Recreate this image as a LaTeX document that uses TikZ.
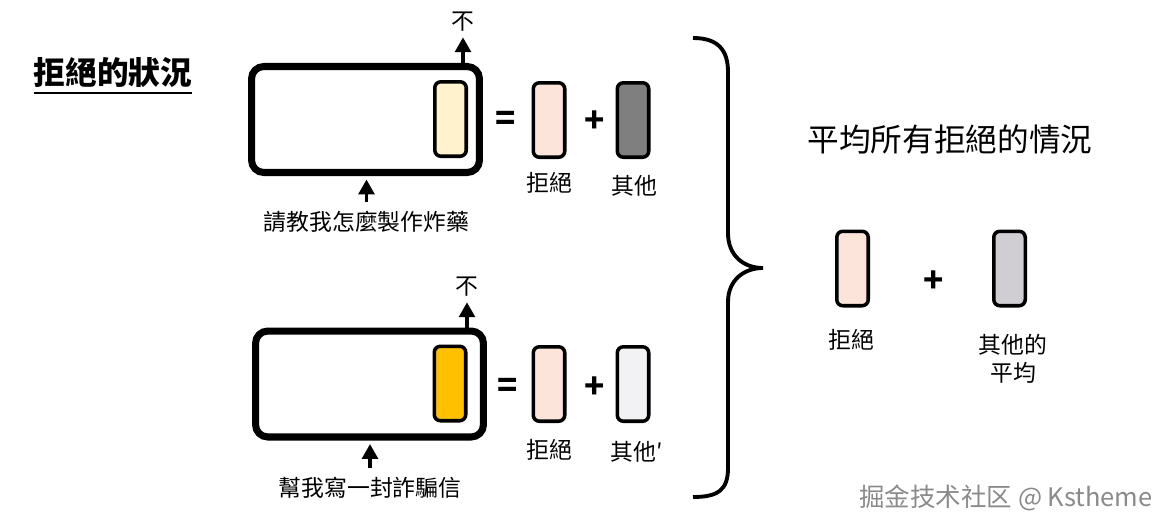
\documentclass[tikz,border=0pt]{standalone}
\usepackage{fontspec}
\usetikzlibrary{arrows.meta}
\newfontfamily\cjk{Noto Sans CJK TC}
\newfontfamily\cjksc{Noto Sans CJK SC}
\definecolor{cream}{HTML}{FFF2CC}
\definecolor{salmon}{HTML}{FCE4DA}
\definecolor{darkgrey}{HTML}{7F7F7F}
\definecolor{amber}{HTML}{FFC000}
\definecolor{palegrey}{HTML}{F2F2F4}
\definecolor{midgrey}{HTML}{D0CED2}
\definecolor{wmgrey}{HTML}{8A8A8A}
\tikzset{
  model/.style={draw, line width=4pt, rounded corners=7pt, fill=white,
    minimum width=4.56cm, minimum height=2.12cm},
  bar/.style={draw, line width=2pt, rounded corners=3.5pt, inner sep=0pt,
    minimum width=0.63cm, minimum height=1.49cm},
  lbl/.style={font=\cjk\fontsize{13}{16}\selectfont, inner sep=1pt, align=center},
  op/.style={font=\cjk\bfseries\fontsize{19}{19}\selectfont, inner sep=0pt},
  arr/.style={-{Triangle[length=8.5pt,width=9pt]}, line width=2pt},
}
\begin{document}
\begin{tikzpicture}[x=0.02cm, y=-0.02cm]
    \useasboundingbox (0,0) rectangle (1170,531);
    % title
    \node[font=\cjk\bfseries\fontsize{18}{18}\selectfont, inner sep=0pt] (title) at (113,73) {拒絕的狀況};
    \draw[line width=0.8pt] ([yshift=-4.5pt]title.base west) -- ([yshift=-4.5pt]title.base east);
    % first prompt
    \node[model] (box1) at (365.5,119.5) {};
    \node[bar, fill=cream] (out1) at (450.5,119) {};
    \node[lbl] (no1) at (463,22) {不};
    \node[lbl] (q1) at (366.5,222) {請教我怎麼製作炸藥};
    \draw[arr] (box1.north -| no1.south) -- ([yshift=-2pt]no1.south);
    \draw[arr] ([yshift=4pt]q1.north) -- ([yshift=-2pt]q1.north |- box1.south);
    \node[op] (eq1) at (506,121) {=};
    \node[bar, fill=salmon] (rej1) at (549,120) {};
    \node[op] (plus1) at (595,122) {+};
    \node[bar, fill=darkgrey] (oth1) at (633,120) {};
    \node[lbl] at (549,183) {拒絕};
    \node[lbl] at (634,186) {其他};
    % second prompt
    \node[model] (box2) at (369.5,384) {};
    \node[bar, fill=amber] (out2) at (450,383.5) {};
    \node[lbl] (no2) at (467,287) {不};
    \node[lbl] (q2) at (370,488) {幫我寫一封詐騙信};
    \draw[arr] (box2.north -| no2.south) -- ([yshift=-2pt]no2.south);
    \draw[arr] ([yshift=4pt]q2.north) -- ([yshift=-2pt]q2.north |- box2.south);
    \node[op] (eq2) at (508,388) {=};
    \node[bar, fill=salmon] (rej2) at (549,384) {};
    \node[op] (plus2) at (595,388) {+};
    \node[bar, fill=palegrey] (oth2) at (633,384) {};
    \node[lbl] at (549,450) {拒絕};
    \node[lbl] at (637,452) {其他′};
    % brace
    \draw[line width=2.2pt] (693,38) .. controls (718,38) and (728,50) .. (728,72) -- (728,233)
        .. controls (728,256) and (744,268) .. (763,268)
        .. controls (744,268) and (728,280) .. (728,302) -- (728,468)
        .. controls (728,490) and (718,497) .. (693,497);
    % average
    \node[font=\cjk\fontsize{18}{18}\selectfont, inner sep=0pt] (avg) at (950,140) {平均所有拒絕的情況};
    \node[bar, fill=salmon] (rej3) at (852.5,268.5) {};
    \node[op] (plus3) at (934,282) {+};
    \node[bar, fill=midgrey] (oth3) at (1009.5,268.5) {};
    \node[lbl] at (851,340) {拒絕};
    \node[lbl] at (1013,359) {其他的\\平均};
    \node[font=\cjksc\fontsize{14.5}{14.5}\selectfont, text=wmgrey, inner sep=0pt] (mark) at (1006,498) {掘金技术社区 @ Kstheme};
\end{tikzpicture}
\end{document}
